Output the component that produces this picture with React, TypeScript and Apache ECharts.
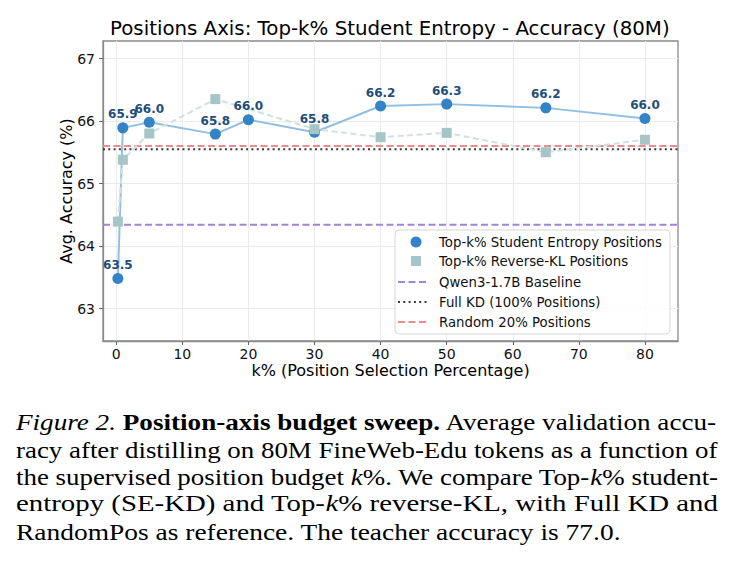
import React, { useEffect, useRef } from "react";
import * as echarts from "echarts";

// ---- data ----
const kValues = [0.25, 1, 5, 15, 20, 30, 40, 50, 65, 80];
const entropyAcc = [63.48, 65.89, 65.98, 65.79, 66.02, 65.82, 66.24, 66.27, 66.21, 66.04];
const rklK = [0.25, 1, 5, 15, 30, 40, 50, 65, 80];
const rklAcc = [64.39, 65.38, 65.8, 66.35, 65.87, 65.74, 65.81, 65.5, 65.7];
const baselineAcc = 64.34;
const fullKdAcc = 65.55;
const random20Acc = 65.6;
const xTicks = [0, 10, 20, 30, 40, 50, 60, 70, 80];
const yTicks = [63, 64, 65, 66, 67];
const xRange = [-2, 85];
const yRange = [62.48, 67.28];
const legendNames = [
  "Top-k% Student Entropy Positions",
  "Top-k% Reverse-KL Positions",
  "Qwen3-1.7B Baseline",
  "Full KD (100% Positions)",
  "Random 20% Positions",
];
const titleText = "Positions Axis: Top-k% Student Entropy - Accuracy (80M)";
const xName = "k% (Position Selection Percentage)";
const yName = "Avg. Accuracy (%)";
const captionLines: [string, string][][] = [
  [["i", "Figure 2."], ["n", " "], ["b", "Position-axis budget sweep."], ["n", " Average validation accu-"]],
  [["n", "racy after distilling on 80M FineWeb-Edu tokens as a function of"]],
  [["n", "the supervised position budget "], ["i", "k"], ["n", "%. We compare Top-"], ["i", "k"], ["n", "% student-"]],
  [["n", "entropy (SE-KD) and Top-"], ["i", "k"], ["n", "% reverse-KL, with Full KD and"]],
  [["n", "RandomPos as reference. The teacher accuracy is 77.0."]],
];

// ---- styles ----
const BLUE = "#3483c6";
const BLUE_LINE = "#92bfe3";
const TEAL = "#a6c5c7";
const TEAL_LINE = "#cfe1e0";
const LABEL = "#1f4e79";
const PURPLE = "#a183d9";
const RED = "#ec8c8c";
const DOT = "#3a3a3a";
const SANS = "DejaVu Sans";
const SERIF = "'Liberation Serif', 'Times New Roman', Tinos, serif";
const CAP_SIZE = 23;

function measure(segs: [string, string][]): number {
  const c = document.createElement("canvas").getContext("2d");
  if (!c) return 1;
  let w = 0;
  for (const [s, t] of segs) {
    const style = s === "i" ? "italic" : "normal";
    const weight = s === "b" ? "bold" : "normal";
    c.font = `${style} ${weight} ${CAP_SIZE}px ${SERIF}`;
    w += c.measureText(t).width;
  }
  return w;
}

export default function App() {
  const ref = useRef<HTMLDivElement>(null);
  useEffect(() => {
    if (!ref.current) return;
    const chart = echarts.init(ref.current, undefined, { renderer: "svg" });

    const capLeft = 16;
    const capRight = 718;
    const baselines = [429, 457, 484, 511, 539];
    const scales = captionLines.map((l) => (capRight - capLeft) / measure(l));
    const avgScale = (scales[0] + scales[1] + scales[2] + scales[3]) / 4;
    const rich = {
      n: { fontFamily: SERIF, fontSize: CAP_SIZE, fill: "#000", color: "#000" },
      i: { fontFamily: SERIF, fontSize: CAP_SIZE, fontStyle: "italic", fill: "#000", color: "#000" },
      b: { fontFamily: SERIF, fontSize: CAP_SIZE, fontWeight: "bold", fill: "#000", color: "#000" },
    };
    const captionEls = captionLines.map((segs, i) => ({
      type: "text",
      x: capLeft,
      y: baselines[i] - 7,
      scaleX: i < 4 ? scales[i] : avgScale,
      style: {
        text: segs.map(([s, t]) => `{${s}|${t}}`).join(""),
        rich,
        fontFamily: SERIF,
        fontSize: CAP_SIZE,
        fill: "#000",
        align: "left",
        textAlign: "left",
        verticalAlign: "middle",
        textVerticalAlign: "middle",
      },
    }));

    const legendY = [242, 261, 282, 302, 322];
    const legendEls: any[] = [
      {
        type: "rect",
        shape: { x: 395, y: 230, width: 275, height: 104, r: 4 },
        style: { fill: "rgba(255,255,255,0.85)", stroke: "#d6d6d6", lineWidth: 1 },
        z: 10,
      },
      { type: "circle", shape: { cx: 416, cy: legendY[0], r: 5.5 }, style: { fill: BLUE }, z: 11 },
      { type: "rect", shape: { x: 411, y: legendY[1] - 5, width: 10, height: 10 }, style: { fill: TEAL }, z: 11 },
      {
        type: "line",
        shape: { x1: 398, y1: legendY[2], x2: 428, y2: legendY[2] },
        style: { stroke: PURPLE, lineWidth: 2, lineDash: [7, 3.5] },
        z: 11,
      },
      {
        type: "line",
        shape: { x1: 398, y1: legendY[3], x2: 428, y2: legendY[3] },
        style: { stroke: DOT, lineWidth: 2, lineDash: [2, 3.3] },
        z: 11,
      },
      {
        type: "line",
        shape: { x1: 398, y1: legendY[4], x2: 428, y2: legendY[4] },
        style: { stroke: RED, lineWidth: 2, lineDash: [7, 3.5] },
        z: 11,
      },
      ...legendNames.map((n, i) => ({
        type: "text",
        x: 439,
        y: legendY[i],
        z: 11,
        style: {
          text: n,
          fontFamily: SANS,
          fontSize: 13.3,
          fill: "#111",
          align: "left",
          textAlign: "left",
          verticalAlign: "middle",
          textVerticalAlign: "middle",
        },
      })),
    ];

    const hLine = (name: string, v: number, color: string, dash: number[]) => ({
      name,
      type: "line",
      data: [
        [xRange[0], v],
        [xRange[1], v],
      ],
      symbol: "none",
      silent: true,
      lineStyle: { color, width: 2, type: dash },
      z: 2,
    });

    const entropyData = kValues.map((k, i) => [k, entropyAcc[i]]);

    chart.setOption({
      animation: false,
      backgroundColor: "#fff",
      textStyle: { fontFamily: SANS },
      title: {
        text: titleText,
        left: 110,
        top: 18,
        padding: 0,
        textStyle: { fontFamily: SANS, fontSize: 19.8, fontWeight: "normal", color: "#000" },
      },
      grid: {
        left: 103,
        right: 61,
        top: 41,
        bottom: 230,
        show: true,
        borderColor: "#8a8a8a",
        borderWidth: 1.3,
        backgroundColor: "transparent",
      },
      xAxis: {
        type: "value",
        min: xRange[0],
        max: xRange[1],
        name: xName,
        nameLocation: "middle",
        nameGap: 21,
        nameMoveOverlap: false,
        nameTextStyle: { fontFamily: SANS, fontSize: 16, color: "#000" },
        axisLine: { show: true, onZero: false, lineStyle: { color: "#8a8a8a", width: 1.3 } },
        axisTick: { show: true, length: 4, lineStyle: { color: "#666" }, customValues: xTicks },
        axisLabel: { fontFamily: SANS, fontSize: 14, color: "#111", margin: 6, customValues: xTicks },
        splitLine: { show: true, lineStyle: { color: "#ebebeb", width: 1 } },
      },
      yAxis: {
        type: "value",
        min: yRange[0],
        max: yRange[1],
        name: yName,
        nameLocation: "middle",
        nameGap: 29,
        nameMoveOverlap: false,
        nameTextStyle: { fontFamily: SANS, fontSize: 16, color: "#000" },
        axisLine: { show: true, onZero: false, lineStyle: { color: "#8a8a8a", width: 1.3 } },
        axisTick: { show: true, length: 4, lineStyle: { color: "#666" }, customValues: yTicks },
        axisLabel: { fontFamily: SANS, fontSize: 14, color: "#111", margin: 8, customValues: yTicks },
        splitLine: { show: true, lineStyle: { color: "#ebebeb", width: 1 } },
      },
      series: [
        hLine(legendNames[2], baselineAcc, PURPLE, [7, 3.5]),
        hLine(legendNames[3], fullKdAcc, DOT, [2, 3.3]),
        hLine(legendNames[4], random20Acc, RED, [7, 3.5]),
        {
          name: legendNames[0],
          type: "line",
          data: entropyData,
          symbol: "circle",
          symbolSize: 11,
          itemStyle: { color: BLUE, borderWidth: 0 },
          lineStyle: { color: BLUE_LINE, width: 2 },
          z: 3,
        },
        {
          name: legendNames[1],
          type: "line",
          data: rklK.map((k, i) => [k, rklAcc[i]]),
          symbol: "rect",
          symbolSize: 10,
          itemStyle: { color: TEAL, borderWidth: 0 },
          lineStyle: { color: TEAL_LINE, width: 2, type: [6, 3.5] },
          z: 4,
        },
        {
          name: "value labels",
          type: "scatter",
          data: entropyData,
          symbol: "circle",
          symbolSize: 11,
          itemStyle: { color: "rgba(0,0,0,0)", opacity: 1 },
          silent: true,
          z: 10,
          label: {
            show: true,
            position: "top",
            distance: 2,
            formatter: (p: any) => Number(p.value[1]).toFixed(1),
            color: LABEL,
            opacity: 1,
            fontWeight: "bold",
            fontSize: 12,
            fontFamily: SANS,
          },
        },
      ],
      graphic: [...legendEls, ...captionEls],
    });
    return () => chart.dispose();
  }, []);
  return (
    <div
      ref={ref}
      style={{ position: "fixed", left: 0, top: 0, width: 739, height: 571, background: "#fff" }}
    />
  );
}
